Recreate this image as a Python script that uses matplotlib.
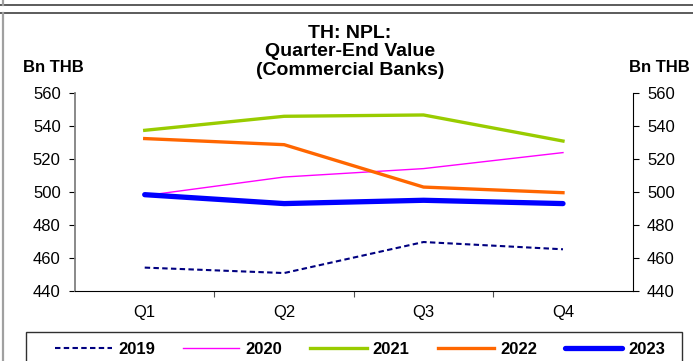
import matplotlib
matplotlib.use('Agg')
import matplotlib.pyplot as plt
from matplotlib.lines import Line2D
from matplotlib.patches import Rectangle

plt.rcParams['font.family'] = ['Liberation Sans', 'DejaVu Sans']

# Datos (Bn THB)
quarters = ['Q1', 'Q2', 'Q3', 'Q4']
y2019 = [454.0, 450.7, 469.5, 465.1]
y2020 = [497.6, 508.9, 514.0, 523.7]
y2021 = [537.2, 545.7, 546.5, 530.7]
y2022 = [532.2, 528.5, 502.8, 499.4]
y2023 = [498.2, 492.8, 494.8, 492.8]
yticks = [440, 460, 480, 500, 520, 540, 560]

W, H = 693, 361
fig = plt.figure(figsize=(W / 100, H / 100), dpi=100)

# marco exterior
fig.add_artist(Line2D([0, 1], [1 - 5 / H, 1 - 5 / H], color='#404040', lw=1.2))
fig.add_artist(Line2D([0, 1], [1 - 12.5 / H, 1 - 12.5 / H], color='#404040', lw=1.2))
fig.add_artist(Line2D([3 / W, 3 / W], [0, 1 - 12.5 / H], color='#a0a0a0', lw=1.6))
fig.add_artist(Line2D([3 / W, 3 / W], [1 - 5 / H, 1], color='#a0a0a0', lw=1.6))

ax = fig.add_axes([75 / W, 1 - 290.7 / H, (632.7 - 75) / W, 198 / H])
x = range(len(quarters))
ax.plot(x, y2019, color='#000080', lw=1.5, dashes=(2.6, 1.6), label='2019')
ax.plot(x, y2020, color='#ff00ff', lw=1.0, label='2020')
ax.plot(x, y2021, color='#99cc00', lw=2.4, label='2021')
ax.plot(x, y2022, color='#ff6600', lw=2.4, label='2022')
ax.plot(x, y2023, color='#0000ff', lw=3.8, solid_capstyle='round', label='2023')

ax.set_xlim(-0.5, 3.5)
ax.set_ylim(440, 560)
ax.set_yticks(yticks)
ax.set_xticks([0.5, 1.5, 2.5])
ax.set_xticklabels([])
ax.set_xticks(list(x), minor=True)
ax.set_xticklabels(quarters, minor=True, fontsize=12)
ax.tick_params(axis='x', which='minor', length=0, pad=10)
ax.tick_params(axis='x', which='major', length=4.5, direction='out', color='#505050')
ax.tick_params(axis='y', left=True, right=True, labelleft=True, labelright=True,
               direction='out', length=4.3, labelsize=12, pad=6)

ax.spines['top'].set_visible(False)
ax.spines['left'].set_color('#808080')
ax.spines['left'].set_linewidth(1.3)
ax.spines['right'].set_color('black')
ax.spines['bottom'].set_color('black')

fig.text(350 / W, 1 - 51.7 / H, 'TH: NPL:\nQuarter-End Value\n(Commercial Banks)',
         ha='center', va='center', fontsize=14, fontweight='bold', linespacing=1.12)
fig.text(53 / W, 1 - 67.7 / H, 'Bn THB', ha='center', va='center', fontsize=12, fontweight='bold')
fig.text(659 / W, 1 - 67.7 / H, 'Bn THB', ha='center', va='center', fontsize=12, fontweight='bold')

# leyenda
fig.add_artist(Rectangle((26 / W, -0.05), (682 - 26) / W, 0.05 + 1 - 331.7 / H,
                         transform=fig.transFigure, fill=False, edgecolor='#303030', lw=1.0))
handles, labels = ax.get_legend_handles_labels()
leg = fig.legend(handles, labels, loc='center', bbox_to_anchor=(360 / W, 1 - 349 / H),
                 ncol=5, frameon=False, handlelength=3.4, handletextpad=0.36,
                 columnspacing=1.68, prop={'size': 12, 'weight': 'bold'})

fig.savefig('out.png', dpi=100)
